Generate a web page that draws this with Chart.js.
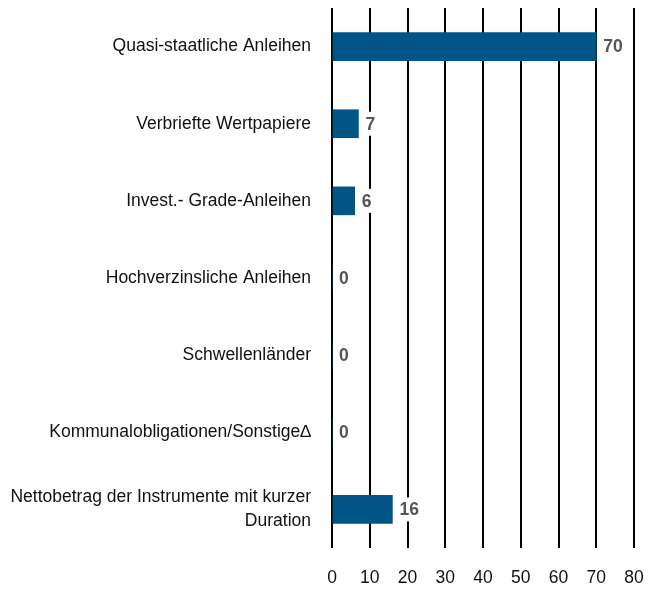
<!DOCTYPE html>
<html>
<head>
<meta charset="utf-8">
<script src="https://cdn.jsdelivr.net/npm/chart.js@4.4.0/dist/chart.umd.min.js"></script>
<style>
  html, body { margin: 0; padding: 0; background: #fff; }
  #wrap { width: 660px; height: 589px; }
</style>
</head>
<body>
<div id="wrap"><canvas id="chart"></canvas></div>
<script>
const categories = [
  'Quasi-staatliche Anleihen',
  'Verbriefte Wertpapiere',
  'Invest.- Grade-Anleihen',
  'Hochverzinsliche Anleihen',
  'Schwellenländer',
  'Kommunalobligationen/Sonstige\u2206',
  ['Nettobetrag der Instrumente mit kurzer', 'Duration']
];
const values = [70, 7, 6, 0, 0, 0, 16];
const xTicks = [0, 10, 20, 30, 40, 50, 60, 70, 80];

const FONT = '"Liberation Sans", Arial, sans-serif';

// value labels with a white box that breaks the gridlines
const valueLabels = {
  id: 'valueLabels',
  afterDatasetsDraw(chart) {
    const ctx = chart.ctx;
    const meta = chart.getDatasetMeta(0);
    ctx.save();
    ctx.font = 'bold 17.5px ' + FONT;
    ctx.textBaseline = 'middle';
    ctx.textAlign = 'left';
    meta.data.forEach((bar, i) => {
      const txt = String(values[i]);
      const x = bar.x + 7;
      const y = bar.y;
      const w = ctx.measureText(txt).width;
      ctx.fillStyle = '#fff';
      ctx.fillRect(x - 3, y - 12, w + 6, 24);
      ctx.fillStyle = '#555555';
      ctx.fillText(txt, x, y + 1);
    });
    ctx.restore();
  }
};

new Chart(document.getElementById('chart'), {
  type: 'bar',
  data: {
    labels: categories,
    datasets: [{
      data: values,
      backgroundColor: '#005587',
      borderWidth: 0,
      barThickness: 28
    }]
  },
  options: {
    indexAxis: 'y',
    responsive: true,
    maintainAspectRatio: false,
    animation: false,
    layout: { padding: { top: 8, right: 26, left: 0, bottom: 0 } },
    plugins: {
      legend: { display: false },
      tooltip: { enabled: false }
    },
    scales: {
      x: {
        min: 0,
        max: 80,
        afterBuildTicks(scale) { scale.ticks = xTicks.map(v => ({ value: v })); },
        afterFit(scale) { scale.height = 41; scale.paddingLeft = 0; scale.paddingRight = 0; },
        grid: { color: '#000', lineWidth: 2, drawTicks: false },
        border: { display: false },
        ticks: {
          padding: 20,
          color: '#111',
          font: { family: FONT, size: 17.5 }
        }
      },
      y: {
        afterFit(scale) { scale.width = 332; scale.paddingTop = 0; scale.paddingBottom = 0; },
        grid: { display: false, drawTicks: false },
        border: { display: false },
        ticks: {
          padding: 21,
          color: '#111',
          font: { family: FONT, size: 17.5, lineHeight: 1.37 }
        }
      }
    }
  },
  plugins: [valueLabels]
});
</script>
</body>
</html>
